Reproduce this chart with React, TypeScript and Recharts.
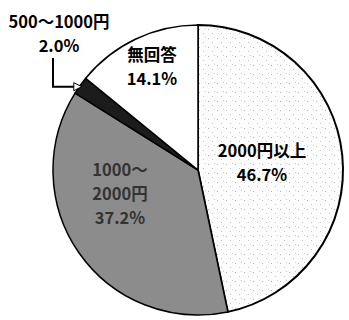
import { PieChart, Pie, Cell } from 'recharts';

const categories = ['2000円以上', '1000～2000円', '500～1000円', '無回答'];
const shares = [46.7, 37.2, 2.0, 14.1];
const labelLines = [['2000円以上'], ['1000～', '2000円'], ['500～1000円'], ['無回答']];

const data = categories.map((name, i) => ({ name, value: shares[i] }));

const W = 349;
const H = 320;
const CX = 198;
const CY = 170;
const R = 145;
const FONT = "'Noto Sans CJK JP', 'Noto Sans', sans-serif";
const fills = ['url(#speckle)', '#8c8c8c', '#1c1c1c', '#ffffff'];
const textColors = ['#000', '#333', '#000', '#000'];
// label anchor offsets from the pie centre (x, first line y)
const labelOffsets = [
  { dx: 64, dy: -20 },
  { dx: -78, dy: -1 },
  { dx: -139, dy: -149 },
  { dx: -46, dy: -116 },
];
const LINE_H = 24;
const FS = 16.5;
const RAD = Math.PI / 180;

const renderLabel = (props: any) => {
  const { index, midAngle } = props;
  const off = labelOffsets[index];
  const x = CX + off.dx;
  const y0 = CY + off.dy;
  const lines = [...labelLines[index], `${shares[index].toFixed(1)}%`];
  let leader = null;
  if (index === 2) {
    const tx = CX + (R - 2) * Math.cos(-midAngle * RAD);
    const ty = CY + (R - 2) * Math.sin(-midAngle * RAD);
    const lx = x - 6;
    const top = y0 + LINE_H + 13;
    leader = (
      <g>
        <polyline
          points={`${lx},${top} ${lx},${ty} ${tx - 7},${ty}`}
          fill="none"
          stroke="#000"
          strokeWidth={2}
        />
        <polygon
          points={`${tx - 8},${ty - 4} ${tx},${ty} ${tx - 8},${ty + 4}`}
          fill="#fff"
          stroke="#000"
          strokeWidth={1}
        />
      </g>
    );
  }
  return (
    <g key={`lbl-${index}`}>
      {leader}
      {lines.map((t, j) => (
        <text
          key={j}
          x={x}
          y={y0 + j * LINE_H}
          textAnchor="middle"
          dominantBaseline="central"
          fontFamily={FONT}
          fontWeight={700}
          fontSize={FS}
          fill={textColors[index]}
        >
          {t}
        </text>
      ))}
    </g>
  );
};

export default function App() {
  return (
    <div style={{ position: 'absolute', left: 0, top: 0, width: W, height: H, background: '#fff' }}>
      <svg width={0} height={0} style={{ position: 'absolute' }}>
        <defs>
          <pattern id="speckle" width={9} height={9} patternUnits="userSpaceOnUse">
            <rect width={9} height={9} fill="#fdfdfd" />
            <rect x={1} y={2} width={1} height={1} fill="#b5b5b5" />
            <rect x={5} y={6} width={1} height={1} fill="#c4c4c4" />
            <rect x={7} y={1} width={1} height={1} fill="#d0d0d0" />
          </pattern>
        </defs>
      </svg>
      <PieChart width={W} height={H} margin={{ top: 0, right: 0, bottom: 0, left: 0 }}>
        <Pie
          data={data}
          dataKey="value"
          nameKey="name"
          cx={CX}
          cy={CY}
          outerRadius={R}
          startAngle={90}
          endAngle={-270}
          stroke="#000"
          strokeWidth={2}
          label={renderLabel}
          labelLine={false}
          isAnimationActive={false}
        >
          {data.map((_, i) => (
            <Cell key={`cell-${i}`} fill={fills[i]} stroke="#000" strokeWidth={i === 0 ? 2 : 1.5} />
          ))}
        </Pie>
      </PieChart>
    </div>
  );
}
